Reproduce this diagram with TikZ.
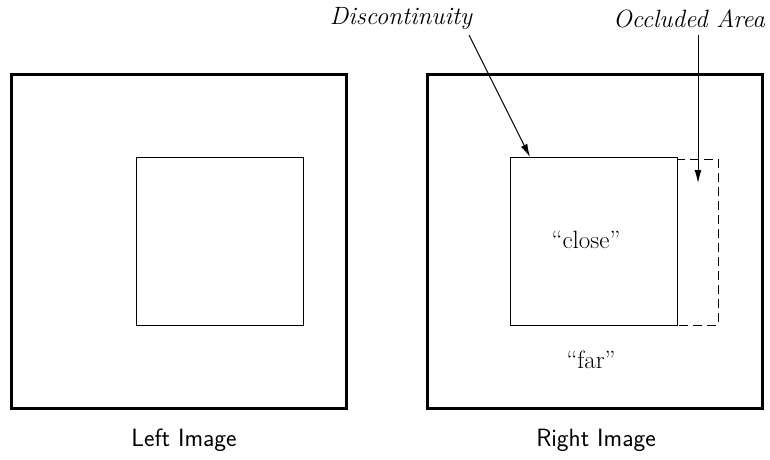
\documentclass[tikz,border=0pt]{standalone}
\usetikzlibrary{arrows.meta}
\begin{document}
\begin{tikzpicture}[x=1pt,y=-1pt,
  outer/.style={draw,line width=3pt},
  inner/.style={draw,line width=1pt},
  occl/.style={draw,line width=1pt,dash pattern=on 9pt off 5pt},
  lbl/.style={font=\fontsize{25}{29}\selectfont\itshape},
  captionlbl/.style={font=\fontsize{25}{29}\selectfont\sffamily},
  txt/.style={font=\fontsize{25}{29}\selectfont},
  pointer/.style={line width=1pt,-{Latex[length=13pt,width=7pt]}}]
\useasboundingbox (0,0) rectangle (770,459);
% left image
\draw[outer] (11,74) rectangle (346,408);
\draw[inner] (136,157) rectangle (303,325);
\node[captionlbl] (lcap) at (184,440) {Left Image};
% right image
\draw[outer] (427,74) rectangle (762,408);
\draw[occl] (677,159) rectangle (718,325);
\draw[inner] (510,157) rectangle (677,325);
\coordinate (disc) at (530,157);
\coordinate (occ) at (698,183);
\node[txt] (close) at (586,240) {``close''};
\node[txt] (far) at (591,360) {``far''};
\node[captionlbl] (rcap) at (596,440) {Right Image};
% labels
\node[lbl] (dlab) at (401,19) {Discontinuity};
\node[lbl] (olab) at (689,19) {Occluded Area};
\coordinate (dstart) at (469,35);
\coordinate (ostart) at (698,35);
\draw[pointer] (dstart) -- (disc);
\draw[pointer] (ostart) -- (occ);
\end{tikzpicture}
\end{document}
